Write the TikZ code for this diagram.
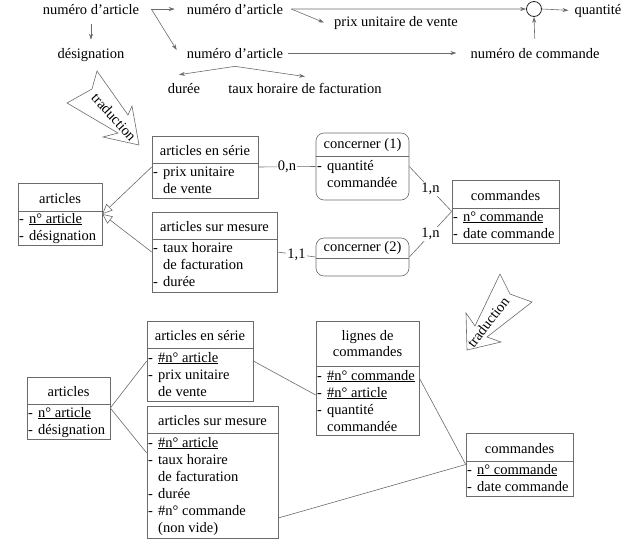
\documentclass[tikz,border=0pt]{standalone}
\usepackage{fontspec}
\setmainfont{Liberation Serif}
\usetikzlibrary{fit,arrows.meta,calc}
\definecolor{lc}{gray}{0.42}
\newcount\tcnt
\newcommand\boxhdr[3]{\global\advance\tcnt by 1 \node[txt,anchor=base] (t\the\tcnt) at (#1,#2) {#3};}
\newcommand\boxrow[3]{\global\advance\tcnt by 1 \node[txt,anchor=base west] (t\the\tcnt) at (#1+11,#2) {#3};}
\newcommand\boxdrow[3]{\global\advance\tcnt by 1 \node[txt,anchor=base west] (t\the\tcnt) at (#1+1,#2) {-};%
 \global\advance\tcnt by 1 \node[txt,anchor=base west] (t\the\tcnt) at (#1+11,#2) {#3};}
\tikzset{
  txt/.style={inner sep=0pt},
  txttop/.style={inner sep=2pt},
  box/.style={draw=lc, line width=0.6pt, inner sep=0pt},
  rbox/.style={box, rounded corners=8pt},
  ln/.style={draw=lc, line width=0.6pt},
  arr/.style={ln, -{Stealth[length=6pt,width=4pt]}},
  inh/.style={ln, -{Triangle[open,length=10pt,width=9pt]}},
  lbl/.style={fill=white, inner sep=1pt},
}
\begin{document}
\begin{tikzpicture}[x=1pt,y=-1pt,font=\rmfamily\fontsize{14.5}{17}\selectfont]
\useasboundingbox (0,0) rectangle (632,544);

% ---------- top: dependencies ----------
\node[txttop,anchor=base] (a1) at (91,14) {numéro d’article};
\node[txttop,anchor=base] (a2) at (91,58) {désignation};
\node[txttop,anchor=base] (b1) at (235,14) {numéro d’article};
\node[txttop,anchor=base] (b2) at (396,26) {prix unitaire de vente};
\node[txttop,anchor=base] (b3) at (235,58) {numéro d’article};
\node[txttop,anchor=base] (cmdn) at (535,58) {numéro de commande};
\node[txttop,anchor=base] (qte) at (598,14) {quantité};
\node[txttop,anchor=base] (dur) at (184,93) {durée};
\node[txttop,anchor=base] (thf) at (305,93) {taux horaire de facturation};
\node[circle,draw=black!85,line width=0.8pt,minimum size=15pt,inner sep=0pt] (circ) at (534,9) {};

\draw[arr,shorten <=8pt,shorten >=6pt] (a1) -- (a2);
\draw[arr] ([xshift=10pt]a1.east) -- ([xshift=-10pt]b1.west);
\draw[arr] ([xshift=10pt]a1.east) -- ([xshift=-8pt,yshift=3pt]b3.west);
\draw[arr] ([xshift=6pt]b1.east) -- (circ.west);
\draw[arr] ([xshift=6pt]b1.east) -- ([xshift=-8pt]b2.west);
\draw[arr,shorten >=4pt] (circ.east) -- (qte.west);
\draw[arr,shorten <=7pt] (cmdn.north) -- (circ.south);
\draw[arr,shorten <=3pt,shorten >=12pt] (b3.east) -- (cmdn.west);
\draw[arr] ([yshift=-6pt]b3.south) -- ([xshift=-5pt,yshift=6pt]dur.north);
\draw[arr] ([yshift=-6pt]b3.south) -- ([yshift=4pt]thf.north);

% ---------- traduction arrow 1 ----------
\draw[ln] (97,71) -- (92,89) -- (67,103) -- (118,133) -- (103,137) -- (139,145) -- (132,106) -- (128,115) -- cycle;
\node[txt,rotate=-48] (tr1) at (114,117) {traduction};

% ---------- middle: conceptual model ----------
\node[box, fit={(18,183) (102,245)}] (art1) {};
\draw[ln] (art1.west |- 0,211) -- (art1.east |- 0,211);
\boxhdr{60}{203}{articles}
\boxdrow{18}{223}{\underline{n° article}}
\boxdrow{18}{240}{désignation}

\node[box, fit={(152,136) (258,198)}] (es1) {};
\draw[ln] (es1.west |- 0,163) -- (es1.east |- 0,163);
\boxhdr{205}{155}{articles en série}
\boxdrow{152}{176}{prix unitaire}
\boxrow{152}{193}{de vente}

\node[box, fit={(152,212) (277,292)}] (sm1) {};
\draw[ln] (sm1.west |- 0,239) -- (sm1.east |- 0,239);
\boxhdr{214.5}{231}{articles sur mesure}
\boxdrow{152}{252}{taux horaire}
\boxrow{152}{269}{de facturation}
\boxdrow{152}{286}{durée}

\node[rbox, fit={(316,133) (409,200)}] (c1) {};
\draw[ln] (c1.west |- 0,156) -- (c1.east |- 0,156);
\boxhdr{362.5}{148}{concerner (1)}
\boxdrow{316}{170}{quantité}
\boxrow{316}{187}{commandée}

\node[rbox, fit={(316,238) (409,276)}] (c2) {};
\draw[ln] (c2.west |- 0,258) -- (c2.east |- 0,258);
\boxhdr{362.5}{251}{concerner (2)}

\node[box, fit={(452,180) (559,243)}] (cmd1) {};
\draw[ln] (cmd1.west |- 0,208) -- (cmd1.east |- 0,208);
\boxhdr{505.5}{200}{commandes}
\boxdrow{452}{221}{\underline{n° commande}}
\boxdrow{452}{238}{date commande}

\draw[inh] (es1.west) -- (art1.east);
\draw[inh] (sm1.west) -- (art1.east);
\draw[ln] (es1.east) -- node[lbl] (l1) {0,n} (c1.west);
\draw[ln] (sm1.east) -- node[lbl] (l2) {1,1} (c2.west);
\draw[ln] (c1.east) -- node[lbl] (l3) {1,n} (cmd1.west);
\draw[ln] (c2.east) -- node[lbl] (l4) {1,n} (cmd1.west);

% ---------- traduction arrow 2 ----------
\draw[ln] (500,274) -- (510,294) -- (532,302) -- (487,337) -- (501,342) -- (467,350) -- (466,313) -- (475,326) -- cycle;
\node[txt,rotate=52] (tr2) at (488,322) {traduction};

% ---------- bottom: relational model ----------
\node[box, fit={(27,377) (110,439)}] (art2) {};
\draw[ln] (art2.west |- 0,404) -- (art2.east |- 0,404);
\boxhdr{68.5}{396}{articles}
\boxdrow{27}{417}{\underline{n° article}}
\boxdrow{27}{434}{désignation}

\node[box, fit={(147,321) (253,401)}] (es2) {};
\draw[ln] (es2.west |- 0,348) -- (es2.east |- 0,348);
\boxhdr{200}{340}{articles en série}
\boxdrow{147}{362}{\underline{\#n° article}}
\boxdrow{147}{379}{prix unitaire}
\boxrow{147}{396}{de vente}

\node[box, fit={(147,406) (278,538)}] (sm2) {};
\draw[ln] (sm2.west |- 0,433) -- (sm2.east |- 0,433);
\boxhdr{212.5}{425}{articles sur mesure}
\boxdrow{147}{447}{\underline{\#n° article}}
\boxdrow{147}{464}{taux horaire}
\boxrow{147}{481}{de facturation}
\boxdrow{147}{498}{durée}
\boxdrow{147}{515}{\#n° commande}
\boxrow{147}{532}{(non vide)}

\node[box, fit={(316,321) (419,435)}] (lg) {};
\draw[ln] (lg.west |- 0,366) -- (lg.east |- 0,366);
\boxhdr{367.5}{340}{lignes de}
\boxhdr{367.5}{356}{commandes}
\boxdrow{316}{380}{\underline{\#n° commande}}
\boxdrow{316}{397}{\underline{\#n° article}}
\boxdrow{316}{414}{quantité}
\boxrow{316}{431}{commandée}

\node[box, fit={(466,433) (573,496)}] (cmd2) {};
\draw[ln] (cmd2.west |- 0,461) -- (cmd2.east |- 0,461);
\boxhdr{519.5}{453}{commandes}
\boxdrow{466}{474}{\underline{n° commande}}
\boxdrow{466}{491}{date commande}

\draw[ln] (art2.east) -- (es2.west);
\draw[ln] (art2.east) -- ([yshift=19pt]sm2.west);
\draw[ln] (es2.east) -- ([yshift=-17pt]lg.west);
\draw[ln] (lg.east) -- (cmd2.west);
\draw[ln] ([yshift=-46pt]sm2.east) -- (cmd2.west);
\end{tikzpicture}
\end{document}
